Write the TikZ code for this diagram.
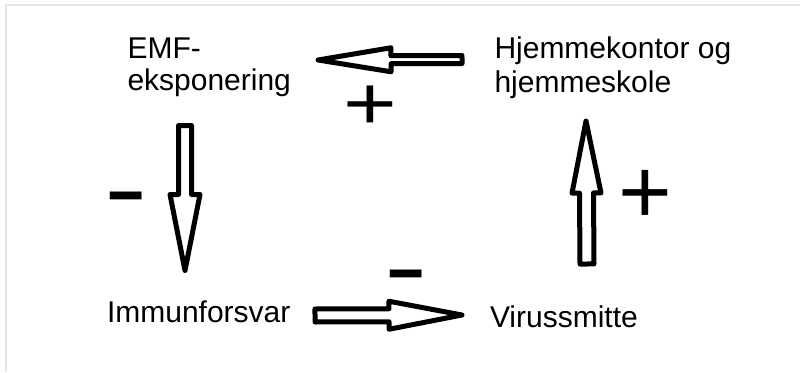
\documentclass[tikz,border=0pt]{standalone}
\usepackage{fontspec}
\setmainfont{Liberation Sans}
\usetikzlibrary{calc}
\tikzset{
  lbl/.style={inner sep=0pt, outer sep=0pt, font=\fontsize{30}{32}\selectfont, text=black, align=left},
  blockarr/.style={draw=black, line width=5pt, line join=round, fill=white},
  plussign/.style={inner sep=0pt, outer sep=0pt, anchor=base, text=black, font=\fontsize{92}{92}\selectfont},
  minussign/.style={inner sep=0pt, outer sep=0pt, anchor=base, text=black, font=\fontsize{100}{100}\selectfont, xscale=1.3},
  framegray/.style={draw=gray!20, line width=1.5pt}
}
% #1 tail, #2 tip, #3 shaft half width, #4 head half width, #5 head length
\newcommand\blkarrow[5]{%
  \coordinate (#1h) at ($(#2)!#5!(#1)$);
  \draw[blockarr] ($(#1)!#3!90:(#2)$) -- ($(#1h)!#3!90:(#2)$) -- ($(#1h)!#4!90:(#2)$) -- (#2)
    -- ($(#1h)!#4!-90:(#2)$) -- ($(#1h)!#3!-90:(#2)$) -- ($(#1)!#3!-90:(#2)$) -- cycle;
}
\begin{document}
\begin{tikzpicture}[x=1pt,y=-1pt]
\useasboundingbox (0,0) rectangle (800,372);
\fill[white] (0,0) rectangle (800,372);
\draw[framegray] (6,372) -- (6,5) -- (800,5);

% labels
\node[lbl, anchor=north west] (emf) at (127.5,38) {EMF-\\eksponering};
\node[lbl, anchor=north west, font=\fontsize{30}{34}\selectfont] (hjem) at (494.5,37) {Hjemmekontor og\\hjemmeskole};
\node[lbl, anchor=base west] (imm) at (107,322.5) {Immunforsvar};
\node[lbl, anchor=base west] (virus) at (490,327) {Virussmitte};

% arrow end points
\coordinate (tA) at (462,59.5);  \coordinate (pA) at (318,60);
\coordinate (tB) at (185,125.5); \coordinate (pB) at (185,270.5);
\coordinate (tC) at (315,315.5); \coordinate (pC) at (462,315);
\coordinate (tD) at (587,264);   \coordinate (pD) at (586,121);

\blkarrow{tA}{pA}{4pt}{12pt}{73pt}
\blkarrow{tB}{pB}{6.5pt}{15pt}{76pt}
\blkarrow{tC}{pC}{6.5pt}{14pt}{73pt}
\blkarrow{tD}{pD}{7pt}{14.5pt}{72pt}

% signs
\node[plussign, yscale=0.82] (plusA) at (370,129.5) {+};
\node[plussign] (plusD) at (645,223) {+};
\node[minussign] (minusB) at (126,222.5) {-};
\node[minussign] (minusC) at (406,300.5) {-};
\end{tikzpicture}
\end{document}
